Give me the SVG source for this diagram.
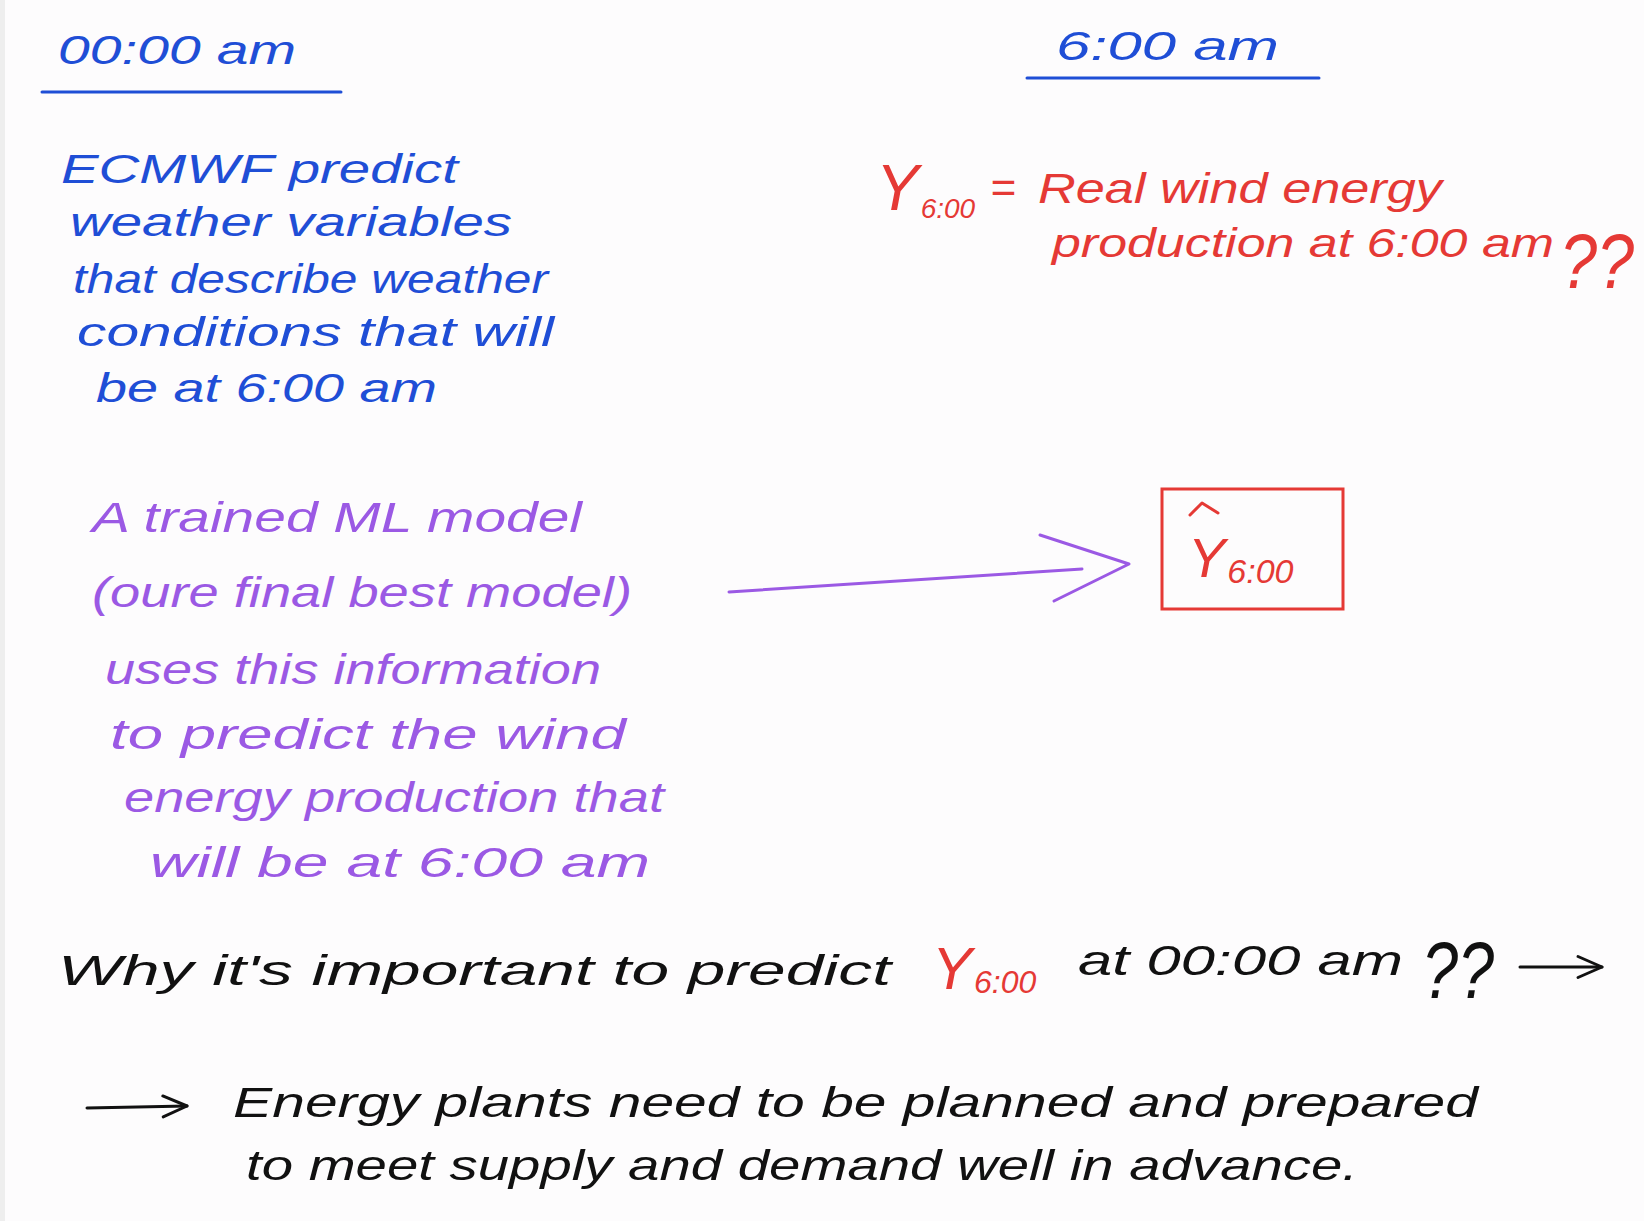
<svg xmlns="http://www.w3.org/2000/svg" width="1644" height="1221" viewBox="0 0 1644 1221">
<style>
text{font-family:"Liberation Sans","DejaVu Sans",sans-serif;font-style:italic}
.blue{fill:#1f4ed6}
.red{fill:#e53935}
.purple{fill:#9b59e4}
.black{fill:#111111}
.b{font-size:40px}
.p{font-size:42px}
.k{font-size:42px}
.ln{fill:none;stroke-linecap:round;stroke-linejoin:round}
</style>
<defs>
<marker id="chev" viewBox="0 0 20 20" refX="18" refY="10" markerWidth="30" markerHeight="30" markerUnits="userSpaceOnUse" orient="auto">
<path d="M2,3 L18,10 L2,17" fill="none" stroke="#111" stroke-width="2" stroke-linecap="round" stroke-linejoin="round"/>
</marker>
</defs>
<rect x="0" y="0" width="1644" height="1221" fill="#fdfcfd"/>
<rect x="0" y="0" width="5" height="1221" fill="#eeeeee"/>

<g id="header-0000">
<text class="blue" x="58" y="64" font-size="40" textLength="238" lengthAdjust="spacingAndGlyphs">00:00 am</text>
<line class="ln" x1="42" y1="92" x2="341" y2="92" stroke="#1f4ed6" stroke-width="3"/>
</g>

<g id="header-0600">
<text class="blue" x="1056" y="60" font-size="40" textLength="223" lengthAdjust="spacingAndGlyphs">6:00 am</text>
<line class="ln" x1="1027" y1="78" x2="1319" y2="78" stroke="#1f4ed6" stroke-width="3"/>
</g>

<g id="ecmwf-text">
<text class="blue b" x="61" y="183" textLength="397" lengthAdjust="spacingAndGlyphs">ECMWF predict</text>
<text class="blue b" x="70" y="236" textLength="442" lengthAdjust="spacingAndGlyphs">weather variables</text>
<text class="blue b" x="73" y="293" textLength="475" lengthAdjust="spacingAndGlyphs">that describe weather</text>
<text class="blue b" x="77" y="346" textLength="477" lengthAdjust="spacingAndGlyphs">conditions that will</text>
<text class="blue b" x="96" y="402" textLength="341" lengthAdjust="spacingAndGlyphs">be at 6:00 am</text>
</g>

<g id="y-definition">
<text class="red" x="876" y="210" font-size="64">Y<tspan font-size="28" dx="2" dy="8">6:00</tspan></text>
<text class="red" x="990" y="203" font-size="44">=</text>
<text class="red" x="1038" y="203" font-size="42" textLength="404" lengthAdjust="spacingAndGlyphs">Real wind energy</text>
<text class="red" x="1052" y="257" font-size="40" textLength="502" lengthAdjust="spacingAndGlyphs">production at 6:00 am</text>
<text class="red" x="1560" y="288" font-size="78" textLength="74" lengthAdjust="spacingAndGlyphs">??</text>
</g>

<g id="ml-model-text">
<text class="purple p" x="92" y="532" textLength="490" lengthAdjust="spacingAndGlyphs">A trained ML model</text>
<text class="purple p" x="92" y="607" textLength="540" lengthAdjust="spacingAndGlyphs">(oure final best model)</text>
<text class="purple p" x="105" y="684" textLength="496" lengthAdjust="spacingAndGlyphs">uses this information</text>
<text class="purple p" x="110" y="749" textLength="516" lengthAdjust="spacingAndGlyphs">to predict the wind</text>
<text class="purple p" x="124" y="812" textLength="540" lengthAdjust="spacingAndGlyphs">energy production that</text>
<text class="purple p" x="150" y="877" textLength="500" lengthAdjust="spacingAndGlyphs">will be at 6:00 am</text>
</g>

<g id="prediction-box">
<rect x="1162" y="489" width="181" height="120" fill="none" stroke="#e53935" stroke-width="3"/>
<path class="ln" d="M1190,515 L1202,503 L1218,513" stroke="#e53935" stroke-width="3"/>
<text class="red" x="1188" y="577" font-size="56">Y<tspan font-size="34" dx="2" dy="6">6:00</tspan></text>
</g>

<g id="question">
<text class="black k" x="58" y="985" textLength="833" lengthAdjust="spacingAndGlyphs">Why it's important to predict</text>
<text class="red" x="932" y="989" font-size="60">Y<tspan font-size="32" dx="2" dy="4">6:00</tspan></text>
<text class="black k" x="1078" y="975" textLength="325" lengthAdjust="spacingAndGlyphs">at 00:00 am</text>
<text class="black" x="1422" y="998" font-size="80" textLength="72" lengthAdjust="spacingAndGlyphs">??</text>
</g>

<g id="answer">
<text class="black k" x="233" y="1117" textLength="1245" lengthAdjust="spacingAndGlyphs">Energy plants need to be planned and prepared</text>
<text class="black k" x="246" y="1180" textLength="1112" lengthAdjust="spacingAndGlyphs">to meet supply and demand well in advance.</text>
</g>

<g id="connectors">
<line class="ln" x1="729" y1="592" x2="1082" y2="569" stroke="#9b59e4" stroke-width="3"/>
<path class="ln" d="M1040,535 L1129,564 L1054,601" stroke="#9b59e4" stroke-width="3"/>
<line class="ln" x1="1520" y1="967" x2="1602" y2="967" stroke="#111" stroke-width="3" marker-end="url(#chev)"/>
<line class="ln" x1="87" y1="1108" x2="187" y2="1106" stroke="#111" stroke-width="3" marker-end="url(#chev)"/>
</g>
</svg>
